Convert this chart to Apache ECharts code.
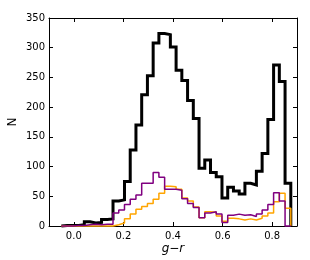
<!DOCTYPE html>
<html><head><meta charset="utf-8">
<script src="https://cdn.jsdelivr.net/npm/echarts@6/dist/echarts.min.js"></script>
<style>html,body{margin:0;padding:0;background:#fff}#c{width:310px;height:260px}</style>
</head><body><div id="c"></div>
<script>
// histogram bin range (40 equal bins)
const binLo = -0.05;
const binHi = 0.875;
const blackCounts  = [1,1,1,2,7,5,6,11,12,42,44,75,128,170,221,253,308,324,322,301,262,245,211,181,97,111,90,83,47,65,59,54,72,69,92,122,179,271,243,72];
const orangeCounts = [0,0,0,0,0,0,0,0,0,2,5,12,20,28,33,38,45,55,67,66,62,47,42,32,14,24,23,17,8,13,12,10,12,10,13,17,22,41,55,30];
const purpleCounts = [0,0,1,1,2,3,2,3,3,22,27,36,45,52,72,72,90,82,62,62,60,46,38,31,14,22,24,20,6,18,20,18,19,16,20,27,36,56,42,0];
const xTicks = [0.0,0.2,0.4,0.6,0.8];
const yTicks = [0,50,100,150,200,250,300,350];

function stepData(counts){
  const w = (binHi-binLo)/counts.length;
  const pts=[[binLo,0]];
  counts.forEach((c,i)=>pts.push([binLo+i*w,c]));
  pts.push([binHi,0]);
  return pts;
}
const font = 'DejaVu Sans';
const axisCommon = {
  axisLine:{show:true,onZero:false,lineStyle:{color:'#000',width:1}},
  splitLine:{show:false}
};
const chart = echarts.init(document.getElementById('c'),null,{renderer:'canvas'});
chart.setOption({
  animation:false,
  backgroundColor:'#fff',
  grid:{left:49,top:18,right:13,bottom:34,show:false,containLabel:false,outerBoundsMode:'none'},
  xAxis:[
    Object.assign({type:'value',min:-0.1,max:0.9,position:'bottom',
      axisTick:{show:true,inside:true,length:4,customValues:xTicks,lineStyle:{color:'#000'}},
      axisLabel:{show:true,customValues:xTicks,formatter:v=>v.toFixed(1),fontSize:10,color:'#000',fontFamily:font,margin:5},
      name:'g\u2212r',nameLocation:'middle',nameGap:17,nameMoveOverlap:false,
      nameTextStyle:{fontStyle:'italic',fontSize:12,color:'#000',fontFamily:font}},axisCommon),
    Object.assign({type:'value',min:-0.1,max:0.9,position:'top',
      axisTick:{show:true,inside:true,length:4,customValues:xTicks,lineStyle:{color:'#000'}},
      axisLabel:{show:false}},axisCommon)
  ],
  yAxis:[
    Object.assign({type:'value',min:0,max:350,interval:50,position:'left',
      axisTick:{show:true,inside:true,length:4,lineStyle:{color:'#000'}},
      axisLabel:{show:true,fontSize:10,color:'#000',fontFamily:font,margin:4},
      name:'N',nameLocation:'middle',nameGap:30,nameRotate:90,nameMoveOverlap:false,
      nameTextStyle:{fontSize:12,color:'#000',fontFamily:font}},axisCommon),
    Object.assign({type:'value',min:0,max:350,interval:50,position:'right',
      axisTick:{show:true,inside:true,length:4,lineStyle:{color:'#000'}},
      axisLabel:{show:false}},axisCommon)
  ],
  series:[
    {type:'line',step:'end',data:stepData(blackCounts),showSymbol:false,clip:false,
      lineStyle:{color:'#000',width:3,join:'miter'},z:2},
    {type:'line',step:'end',data:stepData(orangeCounts),showSymbol:false,clip:false,
      lineStyle:{color:'#FFA500',width:1.5},z:3},
    {type:'line',step:'end',data:stepData(purpleCounts),showSymbol:false,clip:false,
      lineStyle:{color:'#800080',width:1.5},z:4}
  ]
});
</script></body></html>
